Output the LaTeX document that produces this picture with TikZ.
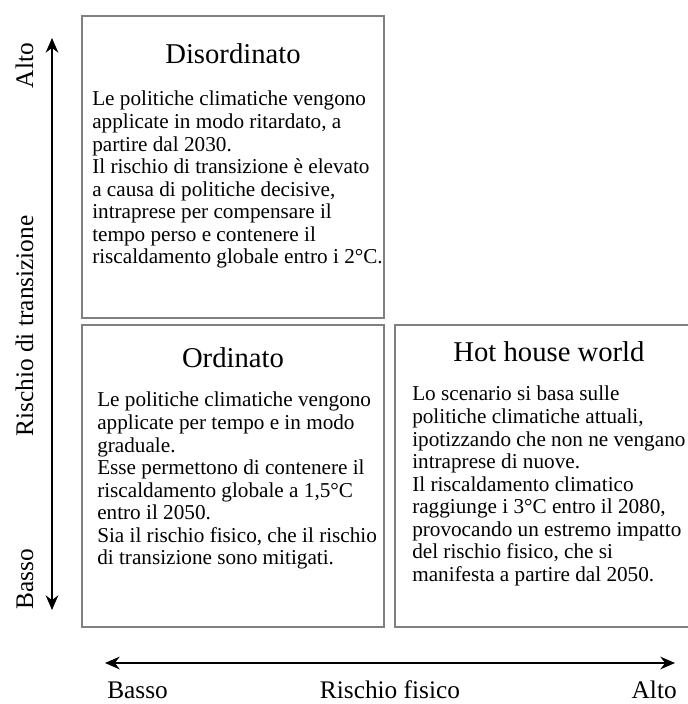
\documentclass[tikz,border=0pt]{standalone}
\usepackage{fontspec}
\setmainfont{Liberation Serif}
\usetikzlibrary{arrows.meta}

\tikzset{
  riquadro/.style={draw=black!50, line width=0.9pt},
  titolo/.style={font=\fontsize{21.5}{24}\selectfont, inner sep=0pt, anchor=base},
  testo/.style={font=\fontsize{15.9}{16.9}\selectfont, align=left, inner sep=0pt, anchor=north west},
  asse/.style={font=\fontsize{19}{22}\selectfont, inner sep=0pt},
  freccia/.style={{Stealth[length=11pt,width=9.5pt]}-{Stealth[length=11pt,width=9.5pt]}, line width=1.1pt}
}

\begin{document}
\begin{tikzpicture}[x=0.75pt, y=-0.75pt]
	\useasboundingbox (0,0) rectangle (688,704);

	% quadranti
	\draw[riquadro] (82,16) rectangle (384,318);
	\draw[riquadro] (82,325) rectangle (384,627);
	\draw[riquadro] (700,325) -- (395,325) -- (395,627) -- (700,627);

	\node[titolo] (disordinato) at (233,63) {Disordinato};
	\node[testo] (disordinato-testo) at (92,91) {Le politiche climatiche vengono\\
		applicate in modo ritardato, a\\
		partire dal 2030.\\
		Il rischio di transizione è elevato\\
		a causa di politiche decisive,\\
		intraprese per compensare il\\
		tempo perso e contenere il\\
		riscaldamento globale entro i 2°C.};

	\node[titolo] (ordinato) at (233,367) {Ordinato};
	\node[testo] (ordinato-testo) at (97,392) {Le politiche climatiche vengono\\
		applicate per tempo e in modo\\
		graduale.\\
		Esse permettono di contenere il\\
		riscaldamento globale a 1,5°C\\
		entro il 2050.\\
		Sia il rischio fisico, che il rischio\\
		di transizione sono mitigati.};

	\node[titolo] (hothouse) at (549,361) {Hot house world};
	\node[testo] (hothouse-testo) at (412,386) {Lo scenario si basa sulle\\
		politiche climatiche attuali,\\
		ipotizzando che non ne vengano\\
		intraprese di nuove.\\
		Il riscaldamento climatico\\
		raggiunge i 3°C entro il 2080,\\
		provocando un estremo impatto\\
		del rischio fisico, che si\\
		manifesta a partire dal 2050.};

	% assi
	\coordinate (y-basso) at (52,610);
	\coordinate (y-alto) at (52,38);
	\draw[freccia] (y-basso) -- (y-alto);
	\node[asse, rotate=90, anchor=base] (y-alto-label) at (33,65.5) {Alto};
	\node[asse, rotate=90, anchor=base] (y-label) at (33,326) {Rischio di transizione};
	\node[asse, rotate=90, anchor=base] (y-basso-label) at (33,579) {Basso};

	\coordinate (x-basso) at (105,663);
	\coordinate (x-alto) at (675,663);
	\draw[freccia] (x-basso) -- (x-alto);
	\node[asse, anchor=base west] (x-basso-label) at (107,698) {Basso};
	\node[asse, anchor=base] (x-label) at (390,698) {Rischio fisico};
	\node[asse, anchor=base east] (x-alto-label) at (677,698) {Alto};
\end{tikzpicture}
\end{document}
